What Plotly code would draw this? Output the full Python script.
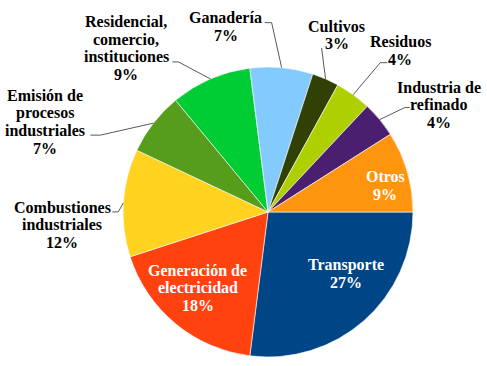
import math
import plotly.graph_objects as go

W, H = 487, 366

labels = ["Transporte", "Generación de electricidad", "Combustiones industriales",
          "Emisión de procesos industriales", "Residencial, comercio, instituciones",
          "Ganadería", "Cultivos", "Residuos", "Industria de refinado", "Otros"]
label_lines = [["Transporte"], ["Generación de", "electricidad"], ["Combustiones", "industriales"],
               ["Emisión de", "procesos", "industriales"], ["Residencial,", "comercio,", "instituciones"],
               ["Ganadería"], ["Cultivos"], ["Residuos"], ["Industria de", "refinado"], ["Otros"]]
values = [27, 18, 12, 7, 9, 7, 3, 4, 4, 9]
colors = ["#004586", "#FF420E", "#FFD320", "#579D1C", "#00CC33",
          "#83CAFF", "#314004", "#AECF00", "#4B1F6F", "#FF950E"]

# pie geometry (pixels)
CX, CY, R = 268, 212, 145
dom_x = [(CX - R) / W, (CX + R) / W]
dom_y = [1 - (CY + R) / H, 1 - (CY - R) / H]

# label style: inside flag, text offset from slice edge, leader path offsets
label_style = [
    dict(inside=True, off=(-18, -47)),
    dict(inside=True, off=(22, -36)),
    dict(inside=False, off=(-61, 22), lead=[(-5, 9), (-11, 9)]),
    dict(inside=False, off=(-108, -1), lead=[(-53, 12), (-63, 12)]),
    dict(inside=False, off=(-84, -31), lead=[(-32, -17), (-38, -17)]),
    dict(inside=False, off=(-56, -41), lead=[(-10, -45), (-17, -45)]),
    dict(inside=False, off=(11, -44), lead=[(-4, -31)]),
    dict(inside=False, off=(47, -44), lead=[(27, -32), (34, -32)]),
    dict(inside=False, off=(59, -15), lead=[(25, -12), (30, -12)]),
    dict(inside=True, off=(-22, 14)),
]

FONT = "Liberation Serif"
FS = 16
LINE_H = 17.5

fig = go.Figure(go.Pie(
    labels=labels, values=values, sort=False, direction="clockwise", rotation=90,
    marker=dict(colors=colors, line=dict(color="white", width=0.6)),
    textinfo="none", hoverinfo="label+percent", showlegend=False,
    domain=dict(x=dom_x, y=dom_y),
))

total = sum(values)
cum = 0
annotations, shapes = [], []
for lab, lines, v, st in zip(labels, label_lines, values, label_style):
    mid = (cum + v / 2) / total
    cum += v
    th = math.radians(-mid * 360)
    ex, ey = CX + R * math.cos(th), CY - R * math.sin(th)
    pct = round(v / total * 100)
    tx, ty = ex + st["off"][0], ey + st["off"][1]
    all_lines = lines + [f"{pct}%"]
    n = len(all_lines)
    for i, line in enumerate(all_lines):
        ly = ty + (i - (n - 1) / 2) * LINE_H
        annotations.append(dict(
            x=tx / W, y=1 - ly / H, xref="paper", yref="paper", showarrow=False,
            text=f"<b>{line}</b>",
            font=dict(family=FONT, size=FS,
                      color="white" if st["inside"] else "black"),
            xanchor="center", yanchor="middle",
        ))
    if not st["inside"]:
        pts = [(ex, ey)] + [(ex + dx, ey + dy) for dx, dy in st["lead"]]
        path = "M " + " L ".join(f"{px / W},{1 - py / H}" for px, py in pts)
        shapes.append(dict(type="path", path=path, xref="paper", yref="paper",
                           line=dict(color="#595959", width=1)))

fig.update_layout(
    width=W, height=H, margin=dict(l=0, r=0, t=0, b=0),
    paper_bgcolor="white", plot_bgcolor="white",
    font=dict(family=FONT),
    annotations=annotations, shapes=shapes,
)
fig.write_html("out.html", post_script="document.body.style.margin='0';",
               config={"displayModeBar": False})
